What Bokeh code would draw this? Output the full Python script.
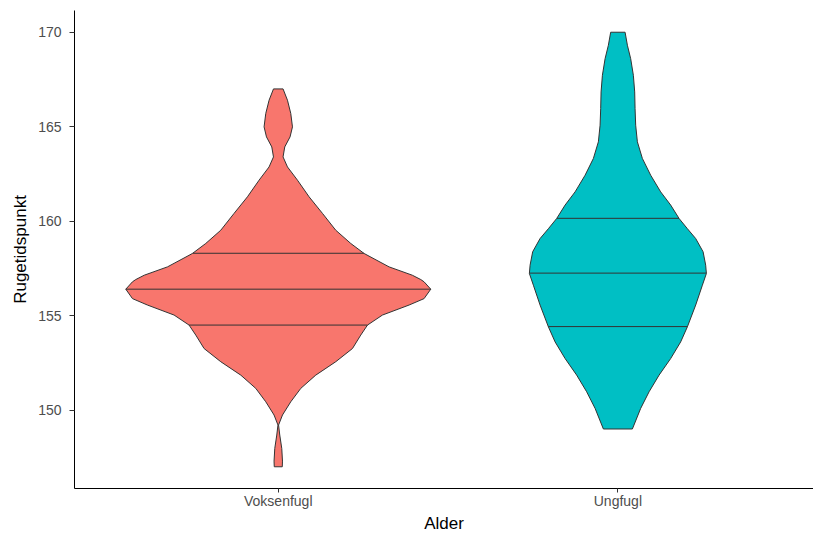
import numpy as np
from bokeh.plotting import figure
from bokeh.models import FixedTicker, Range1d
from bokeh.embed import file_html
from bokeh.resources import INLINE

# categories
categories = ["Voksenfugl", "Ungfugl"]
cat_pos = [1, 2]
colors = ["#F8766D", "#00BFC4"]

# violin profiles: y value and half-width (x units)
red_y = [147.0, 147.3, 147.97, 148.68, 149.21, 149.74, 150.44, 151.15, 151.85, 152.56,
         153.26, 153.97, 154.5, 155.03, 155.56, 155.9, 156.4, 156.79, 156.91, 157.14,
         157.58, 158.29, 158.82, 159.52, 160.41, 161.29, 162.17, 162.87, 163.4, 163.93,
         164.46, 164.99, 165.7, 166.4, 167.0]
red_hw = [0.0118, 0.0124, 0.0103, 0.0044, 0.0009, 0.0124, 0.0368, 0.0663, 0.1104, 0.1693,
          0.2185, 0.2429, 0.2627, 0.3068, 0.3852, 0.4293, 0.449, 0.4293, 0.4196, 0.3946,
          0.3263, 0.2527, 0.2135, 0.1693, 0.1302, 0.0907, 0.0565, 0.0271, 0.0141, 0.0191,
          0.0347, 0.0418, 0.0368, 0.0271, 0.0141]

teal_y = [149.0, 150.09, 150.97, 151.85, 152.73, 153.61, 154.41, 155.56, 156.61, 157.23,
          157.67, 158.38, 159.08, 159.6, 160.14, 160.85, 161.55, 162.43, 163.32, 164.2,
          165.08, 165.96, 166.84, 167.72, 168.6, 169.31, 170.0]
teal_hw = [0.0427, 0.0671, 0.0919, 0.1213, 0.1555, 0.1849, 0.2047, 0.2291, 0.2488, 0.2606,
           0.2585, 0.2509, 0.2291, 0.2047, 0.1802, 0.1555, 0.1260, 0.0966, 0.0721, 0.0574,
           0.0524, 0.0506, 0.0495, 0.0456, 0.0377, 0.0280, 0.0212]

# quantiles (25%, 50%, 75%)
red_q = [154.5, 156.4, 158.3]
teal_q = [154.42, 157.25, 160.15]

y_ticks = [150, 155, 160, 165, 170]

p = figure(width=813, height=536, output_backend="svg", toolbar_location=None,
           x_range=Range1d(0.4, 2.576), y_range=Range1d(145.85, 171.15),
           min_border_left=74, min_border_right=0, min_border_top=10, min_border_bottom=48)
p.outline_line_color = None
p.grid.grid_line_color = None
p.background_fill_color = "white"
p.border_fill_color = "white"

profiles = [(red_y, red_hw, red_q), (teal_y, teal_hw, teal_q)]
for (ys, hws, qs), xc, col in zip(profiles, cat_pos, colors):
    ys = np.array(ys)
    hws = np.array(hws)
    px = np.concatenate([xc + hws, (xc - hws)[::-1]])
    py = np.concatenate([ys, ys[::-1]])
    p.patch(px, py, fill_color=col, line_color="#333333", line_width=1.0)
    qhw = np.interp(qs, ys, hws)
    p.segment(x0=xc - qhw, x1=xc + qhw, y0=qs, y1=qs, line_color="#333333", line_width=1.0)

font = "Liberation Sans"
for ax in (p.xaxis[0], p.yaxis[0]):
    ax.axis_line_color = "black"
    ax.axis_line_width = 1
    ax.major_tick_line_color = "#333333"
    ax.major_tick_in = 0
    ax.minor_tick_line_color = None
    ax.major_label_text_font = font
    ax.major_label_text_font_size = "14px"
    ax.major_label_text_color = "#4D4D4D"
    ax.axis_label_text_font = font
    ax.axis_label_text_font_size = "17px"
    ax.axis_label_text_font_style = "normal"
    ax.axis_label_text_color = "black"

p.xaxis.ticker = FixedTicker(ticks=cat_pos)
p.xaxis.major_label_overrides = {c: n for c, n in zip(cat_pos, categories)}
p.xaxis.axis_label = "Alder"
p.xaxis.major_tick_out = 4
p.xaxis.major_label_standoff = 0
p.xaxis.axis_label_standoff = 2

p.yaxis.ticker = FixedTicker(ticks=y_ticks)
p.yaxis.axis_label = "Rugetidspunkt"
p.yaxis.major_tick_out = 5
p.yaxis.major_label_standoff = 8
p.yaxis.axis_label_standoff = 5

open("out.html", "w").write(file_html(p, INLINE))
